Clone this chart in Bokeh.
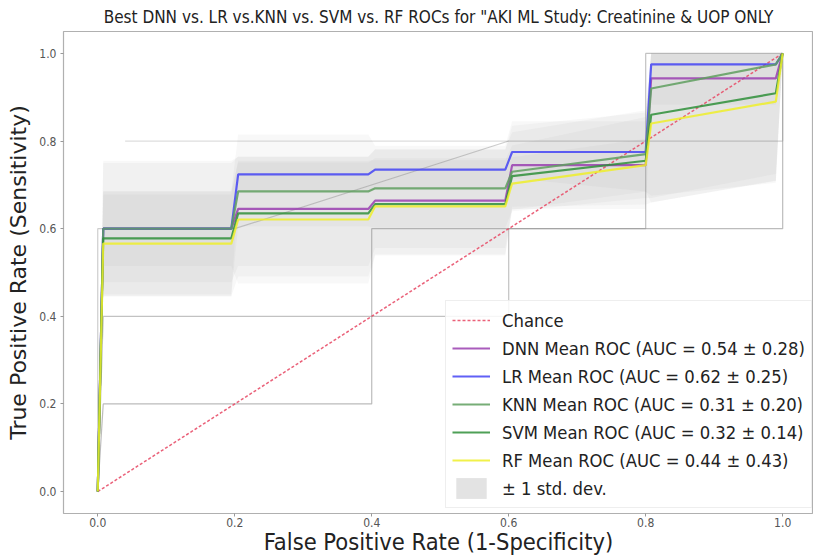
import numpy as np
from bokeh.plotting import figure
from bokeh.models import (ColumnDataSource, Legend, LegendItem, FixedTicker, Range1d,
                          PrintfTickFormatter)
from bokeh.embed import file_html
from bokeh.resources import INLINE

# ---- data ----
fpr = [0.0, 0.008, 0.195, 0.205, 0.395, 0.405, 0.595, 0.605, 0.80, 0.808, 0.99, 1.0]

dnn_tpr = [0.0, 0.600, 0.600, 0.645, 0.645, 0.664, 0.664, 0.745, 0.745, 0.943, 0.943, 1.0]
lr_tpr  = [0.0, 0.600, 0.600, 0.724, 0.724, 0.735, 0.735, 0.775, 0.775, 0.975, 0.975, 1.0]
knn_tpr = [0.0, 0.600, 0.600, 0.685, 0.685, 0.692, 0.692, 0.730, 0.770, 0.920, 0.975, 1.0]
svm_tpr = [0.0, 0.578, 0.578, 0.635, 0.635, 0.656, 0.656, 0.720, 0.755, 0.860, 0.909, 1.0]
rf_tpr  = [0.0, 0.566, 0.566, 0.621, 0.621, 0.651, 0.651, 0.703, 0.745, 0.840, 0.890, 1.0]

dnn_std = [0.0, 0.085, 0.085, 0.170, 0.170, 0.125, 0.125, 0.100, 0.100, 0.060, 0.060, 0.0]
lr_std  = [0.0, 0.155, 0.155, 0.040, 0.040, 0.045, 0.045, 0.060, 0.090, 0.300, 0.270, 0.0]
knn_std = [0.0, 0.150, 0.150, 0.080, 0.080, 0.090, 0.090, 0.090, 0.100, 0.250, 0.250, 0.0]
svm_std = [0.0, 0.100, 0.100, 0.120, 0.120, 0.100, 0.100, 0.070, 0.100, 0.200, 0.200, 0.0]
rf_std  = [0.0, 0.120, 0.120, 0.130, 0.130, 0.110, 0.110, 0.060, 0.060, 0.180, 0.180, 0.0]

models = ["DNN", "LR", "KNN", "SVM", "RF"]
auc_mean = [0.54, 0.62, 0.31, 0.32, 0.44]
auc_std = [0.28, 0.25, 0.20, 0.14, 0.43]
colors = ["#9a3fb0", "#4444f4", "#5f9f5f", "#2f8f3a", "#eeee2a"]

# individual fold curves (thin grey)
fold_a_x = [0.0, 0.008, 0.4, 0.4, 1.0, 1.0]
fold_a_y = [0.0, 0.2, 0.2, 0.6, 0.6, 1.0]
fold_b_x = [0.0, 0.008, 0.6, 0.6, 0.8, 0.8, 1.0]
fold_b_y = [0.0, 0.4, 0.4, 0.6, 0.6, 1.0, 1.0]
fold_c_x = [0.0, 0.0, 0.2, 0.6, 1.0, 1.0]
fold_c_y = [0.0, 0.6, 0.6, 0.8, 0.8, 1.0]
fold_d_x = [0.04, 0.6]
fold_d_y = [0.8, 0.8]

chance_x = [0.0, 1.0]
chance_y = [0.0, 1.0]

ticks = [0.0, 0.2, 0.4, 0.6, 0.8, 1.0]

title = 'Best DNN vs. LR vs.KNN vs. SVM vs. RF ROCs for "AKI ML Study: Creatinine & UOP ONLY'

COND = "DejaVu Sans Condensed"

# ---- figure ----
p = figure(frame_width=750, frame_height=482,
           x_range=Range1d(-0.05, 1.045), y_range=Range1d(-0.05, 1.05),
           output_backend="svg", toolbar_location=None,
           min_border_left=63, min_border_right=0, min_border_top=0, min_border_bottom=0,
           background_fill_color="white", border_fill_color="white")
p.title.text = title
p.title.align = "center"
p.title.text_font = COND
p.title.text_font_size = "17px"
p.title.text_font_style = "normal"
p.title.text_color = "#222222"
p.title.standoff = 9
p.grid.visible = False
p.outline_line_color = "#b0b0b0"
p.outline_line_width = 1.2

for ax in (p.xaxis[0], p.yaxis[0]):
    ax.ticker = FixedTicker(ticks=ticks)
    ax.formatter = PrintfTickFormatter(format="%.1f")
    ax.axis_line_color = None
    ax.major_tick_line_color = "#999999"
    ax.major_tick_out = 3
    ax.major_tick_in = 0
    ax.minor_tick_line_color = None
    ax.major_label_text_font = COND
    ax.major_label_text_font_size = "12px"
    ax.major_label_text_color = "#555555"
    ax.axis_label_text_font_style = "normal"
    ax.axis_label_text_color = "#222222"
p.xaxis.axis_label = "False Positive Rate (1-Specificity)"
p.yaxis.axis_label = "True Positive Rate (Sensitivity)"
p.xaxis.axis_label_text_font = COND
p.yaxis.axis_label_text_font = "DejaVu Sans"
p.xaxis.axis_label_text_font_size = "23.5px"
p.yaxis.axis_label_text_font_size = "22px"
p.xaxis.axis_label_standoff = -2
p.yaxis.axis_label_standoff = 5
p.xaxis.major_label_standoff = 1
p.yaxis.major_label_standoff = 4

# fold curves
for fx, fy, a in [(fold_a_x, fold_a_y, 0.6), (fold_b_x, fold_b_y, 0.55),
                  (fold_c_x, fold_c_y, 0.45), (fold_d_x, fold_d_y, 0.3)]:
    p.line(fx, fy, line_color="#909090", line_width=1.2, line_alpha=a)

# std bands
means = [dnn_tpr, lr_tpr, knn_tpr, svm_tpr, rf_tpr]
stds = [dnn_std, lr_std, knn_std, svm_std, rf_std]
for m, s in zip(means, stds):
    m = np.array(m)
    s = np.array(s)
    src = ColumnDataSource(dict(x=fpr, lo=np.clip(m - s, 0, 1), hi=np.clip(m + s, 0, 1)))
    p.varea(x="x", y1="lo", y2="hi", source=src, fill_color="#8c8c8c", fill_alpha=0.06)

# legend swatch for the std band: zero-height area on the LR mean (invisible in plot)
r_std = p.varea(x=fpr, y1=lr_tpr, y2=lr_tpr, fill_color="#e3e3e3", fill_alpha=1.0)

# chance
r_chance = p.line(chance_x, chance_y, line_color="#e8506a", line_width=1.5,
                  line_dash="3 2", line_alpha=0.9)

# means
mean_renderers = []
for m, c in zip(means, colors):
    src = ColumnDataSource(dict(x=fpr, y=m))
    mean_renderers.append(p.line("x", "y", source=src, line_color=c, line_width=2.2, line_alpha=0.85))

items = [LegendItem(label="Chance", renderers=[r_chance])]
for name, am, sd, r in zip(models, auc_mean, auc_std, mean_renderers):
    items.append(LegendItem(label=f"{name} Mean ROC (AUC = {am:.2f} \u00b1 {sd:.2f})", renderers=[r]))
items.append(LegendItem(label="\u00b1 1 std. dev.", renderers=[r_std]))

legend = Legend(items=items, location=(382, 5))
legend.label_text_font = COND
legend.label_text_font_size = "18.3px"
legend.label_text_color = "#222222"
legend.glyph_width = 38
legend.glyph_height = 26
legend.label_height = 26
legend.label_standoff = 12
legend.spacing = 2
legend.padding = 6
legend.margin = 0
legend.border_line_color = "#dddddd"
legend.background_fill_alpha = 0.85
p.add_layout(legend, "center")

open("out.html", "w").write(file_html(p, INLINE))
